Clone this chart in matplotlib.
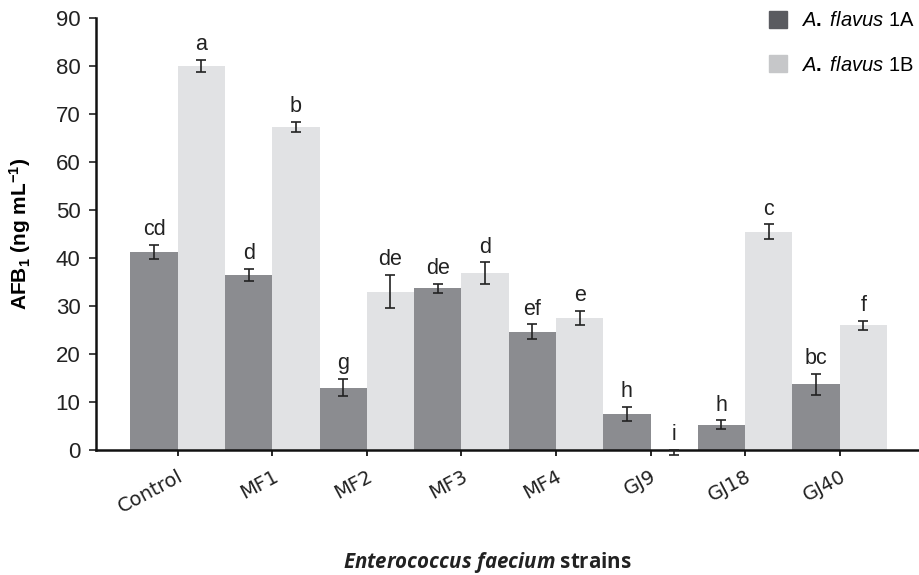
import numpy as np
import matplotlib.pyplot as plt
from matplotlib.patches import Patch

strains = ['Control', 'MF1', 'MF2', 'MF3', 'MF4', 'GJ9', 'GJ18', 'GJ40']
afb_1a = [41.3, 36.5, 13.0, 33.7, 24.7, 7.5, 5.3, 13.7]
err_1a = [1.5, 1.3, 1.8, 1.0, 1.5, 1.5, 0.9, 2.2]
afb_1b = [80.0, 67.3, 33.0, 36.8, 27.5, -0.5, 45.5, 26.0]
err_1b = [1.3, 1.0, 3.5, 2.3, 1.5, 0.5, 1.5, 1.0]
letters_1a = ['cd', 'd', 'g', 'de', 'ef', 'h', 'h', 'bc']
letters_1b = ['a', 'b', 'de', 'd', 'e', 'i', 'c', 'f']

plt.rcParams.update({
    'font.family': 'Liberation Sans',
    'mathtext.fontset': 'custom',
    'mathtext.rm': 'Liberation Sans:bold',
    'mathtext.bf': 'Liberation Sans:bold',
    'mathtext.it': 'Liberation Sans:italic',
    'mathtext.bfit': 'Open Sans:italic:bold',
})

dark = '#8b8c90'
light = '#e1e2e4'

fig = plt.figure(figsize=(9.2, 5.75), dpi=100)
ax = fig.add_axes([0.104, 0.217, 0.896, 0.752])

X = np.arange(len(strains))
w = 0.5
ax.bar(X - w / 2, afb_1a, width=w, color=dark, zorder=1)
ax.bar(X + w / 2, afb_1b, width=w, color=light, zorder=1)
for xs, ys, es in [(X - w / 2, afb_1a, err_1a), (X + w / 2, afb_1b, err_1b)]:
    eb = ax.errorbar(xs, ys, yerr=es, fmt='none', ecolor='#222222',
                     elinewidth=1.2, capsize=3.5, capthick=1.2, zorder=5)
    for art in eb.lines[1] + eb.lines[2]:
        art.set_clip_on(False)

for i in range(len(strains)):
    ax.text(X[i] - w / 2, afb_1a[i] + err_1a[i] + 1.0, letters_1a[i],
            ha='center', va='bottom', fontsize=15.5, color='#222222')
    top_b = max(afb_1b[i] + err_1b[i], 0) + 1.0
    ax.text(X[i] + w / 2, top_b, letters_1b[i],
            ha='center', va='bottom', fontsize=15.5, color='#222222')

ax.set_xlim(-0.868, 7.85)
ax.set_ylim(0, 90)
ax.set_yticks(np.arange(0, 91, 10))
ax.tick_params(axis='y', labelsize=16, length=5, width=1.2, direction='out',
               colors='#222222', pad=6)
ax.set_xticks(X)
ax.set_xticklabels(strains, rotation=28, ha='right', rotation_mode='anchor',
                   fontsize=14, family='Liberation Sans Narrow', color='#222222')
ax.tick_params(axis='x', length=4, width=1.2, direction='out', pad=8)

for s in ['top', 'right']:
    ax.spines[s].set_visible(False)
for s in ['left', 'bottom']:
    ax.spines[s].set_linewidth(1.8)
    ax.spines[s].set_color('#111111')
    ax.spines[s].set_zorder(4)

ax.set_ylabel(r'AFB$_\mathbf{1}$ (ng mL$^\mathbf{-1}$)', fontsize=15, fontweight='bold',
              labelpad=16)

handles = [Patch(color='#5a5b60'), Patch(color='#c6c7c9')]
fig.legend(handles, [r'$\it{A.\ flavus}$ 1A', r'$\it{A.\ flavus}$ 1B'],
           loc='upper right', bbox_to_anchor=(1.003, 0.995), frameon=False,
           fontsize=14.5, labelspacing=1.25, handlelength=0.9, handleheight=0.9,
           handletextpad=0.7, borderaxespad=0.0)

fig.text(0.53, 0.021, r'$\mathbfit{Enterococcus\ faecium}$ strains', ha='center',
         va='center', fontsize=14.8, fontweight='bold', family='Open Sans', color='#222222')

fig.savefig('out.png', dpi=100)
